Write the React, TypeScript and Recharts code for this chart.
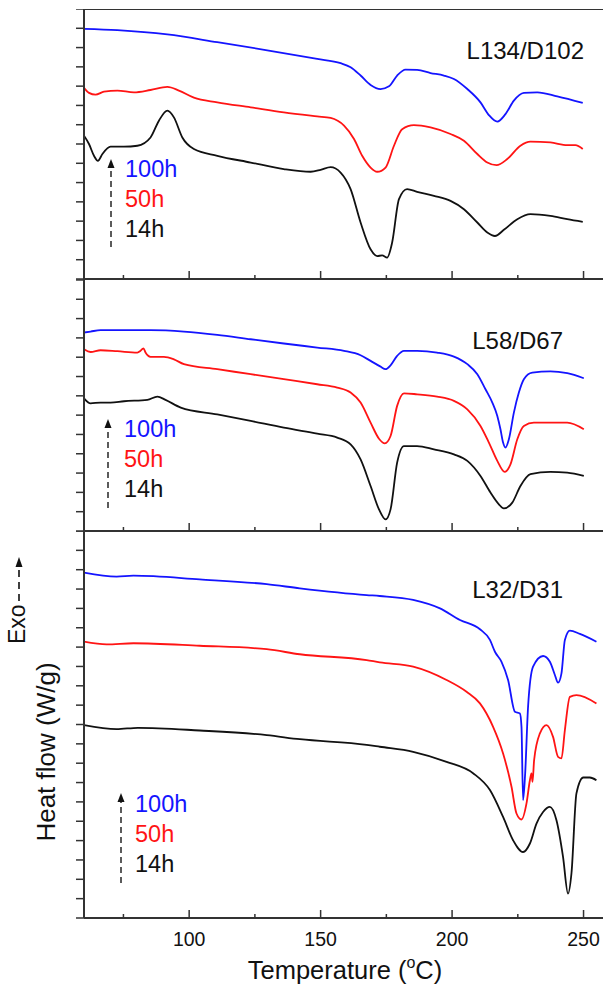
import React from 'react';
import { LineChart, Line, XAxis, YAxis, ReferenceLine } from 'recharts';

const FONT = '"Liberation Sans", Arial, Helvetica, sans-serif';
const AXIS = '#333333';
const BLUE = '#1414ff';
const RED = '#ff1414';
const BLACK = '#111111';

const WIDTH = 603;
const PLOT_LEFT = 84;
const T_MIN = 60;
const T_MAX = 257.4;

// temperature ticks (°C); majors carry labels on the bottom panel
const tempTicks = [75, 100, 125, 150, 175, 200, 225, 250];
const majorTemps = [100, 150, 200, 250];
const ageLabels = ['100h', '50h', '14h'];
const ageColors = [BLUE, RED, BLACK];

// ---- L134/D102 ----
const p1BlueT = [60, 72.7, 91.7, 110.7, 129.7, 148.7, 157.6, 161.4, 165.2, 169, 172.8, 176, 179.1, 182.3, 186.7, 191.8, 196.9, 200.7, 205.8, 210.8, 214, 217.2, 220.3, 223.5, 227.3, 232.4, 240, 249.7];
const p1BlueV = [12.97, 12.9, 12.68, 12.28, 11.86, 11.41, 11.19, 10.98, 10.55, 10.06, 9.85, 9.99, 10.55, 10.86, 10.84, 10.68, 10.55, 10.37, 9.85, 9.16, 8.5, 8.16, 8.55, 9.25, 9.65, 9.68, 9.47, 9.13];
const p1RedT = [60, 61.9, 64.4, 67.6, 72.7, 79, 85.3, 91.7, 96.1, 101.8, 110.7, 123.4, 136, 148.7, 153.8, 158.9, 162.7, 165.8, 169, 171.5, 174.7, 177.9, 181, 185.5, 191.8, 199.4, 204.5, 209.6, 213.4, 216.9, 221, 226, 229.8, 237.4, 243.8, 246.9, 249.7];
const p1RedV = [9.92, 9.65, 9.56, 9.71, 9.77, 9.68, 9.8, 9.96, 9.77, 9.4, 9.16, 8.9, 8.64, 8.43, 8.35, 7.95, 7.26, 6.39, 5.78, 5.56, 5.78, 6.91, 7.77, 7.98, 7.86, 7.52, 7.17, 6.48, 6.04, 5.9, 6.22, 6.91, 7.12, 7.08, 6.94, 6.94, 6.74];
const p1BlackT = [60, 61.9, 63.8, 65.3, 67, 70.1, 75.2, 80.3, 85.3, 88.5, 91.7, 94.2, 97.4, 101.8, 110.7, 123.4, 136, 146.2, 150, 153.8, 157.6, 161.4, 165.2, 169, 171.5, 173.4, 175.3, 177.2, 179.8, 182.9, 186.7, 193.1, 199.4, 204.5, 209.6, 213.4, 216.3, 219.7, 224.8, 229.8, 237.4, 243.8, 249.7];
const p1BlackV = [7.43, 7.0, 6.39, 6.13, 6.48, 6.86, 6.86, 6.91, 7.34, 8.21, 8.73, 8.38, 7.34, 6.74, 6.39, 6.04, 5.7, 5.56, 5.66, 5.8, 5.52, 4.66, 2.93, 1.54, 1.19, 1.22, 1.11, 1.89, 4.14, 4.66, 4.52, 4.31, 4.05, 3.62, 2.93, 2.41, 2.23, 2.55, 3.1, 3.36, 3.27, 3.1, 2.96];

// ---- L58/D67 ----
const p2BlueT = [60, 62.5, 66.3, 72.7, 85.3, 98, 110.7, 123.4, 136, 148.7, 158.9, 165.2, 169, 172.8, 174.7, 176.6, 179.1, 181.7, 186.7, 194.3, 200.7, 205.8, 209.6, 212.7, 215.3, 217.2, 218.4, 219.4, 220.3, 221.6, 223.5, 225.4, 227.3, 230.5, 237.4, 243.8, 250.1];
const p2BlueV = [10.28, 10.33, 10.4, 10.4, 10.4, 10.33, 10.16, 9.93, 9.71, 9.5, 9.33, 9.1, 8.81, 8.51, 8.38, 8.58, 9.07, 9.33, 9.33, 9.24, 9.03, 8.64, 8.12, 7.34, 6.65, 5.96, 5.27, 4.58, 4.32, 4.75, 6.13, 7.17, 7.86, 8.2, 8.27, 8.17, 7.91];
const p2RedT = [60, 62.5, 66.3, 72.7, 80.3, 81.5, 82.6, 83.4, 85.3, 90.4, 94.2, 98, 110.7, 123.4, 136, 148.7, 156.3, 161.4, 165.2, 169, 172.2, 174.4, 176.6, 179.1, 181.7, 186.7, 194.3, 200.7, 205.8, 210.8, 214, 217.2, 220, 222.2, 224.8, 227.3, 231.1, 237.4, 243.8, 250.1];
const p2RedV = [9.41, 9.27, 9.36, 9.31, 9.24, 9.33, 9.46, 9.24, 9.02, 9.02, 8.89, 8.64, 8.38, 8.12, 7.86, 7.6, 7.43, 7.17, 6.65, 5.61, 4.78, 4.54, 4.92, 6.48, 7.13, 7.08, 6.96, 6.74, 6.3, 5.44, 4.58, 3.63, 3.06, 3.45, 4.75, 5.44, 5.61, 5.61, 5.61, 5.27];
const p2BlackT = [60, 62.5, 66.3, 70.1, 75.2, 84.1, 87.9, 91, 96.8, 110.7, 123.4, 136, 148.7, 156.3, 161.4, 165.2, 169, 172.2, 174.7, 176.6, 179.1, 181.7, 186.7, 193.1, 200.7, 205.8, 210.8, 214.6, 217.8, 219.7, 222.9, 226, 229.8, 237.4, 243.8, 250.1];
const p2BlackV = [6.87, 6.61, 6.65, 6.65, 6.72, 6.79, 6.96, 6.79, 6.39, 6.04, 5.7, 5.35, 5.04, 4.84, 4.49, 3.71, 2.33, 1.12, 0.6, 1.12, 3.54, 4.4, 4.4, 4.23, 3.97, 3.63, 2.85, 1.99, 1.38, 1.17, 1.47, 2.33, 2.94, 3.06, 3.02, 2.85];

// ---- L32/D31 ----
const p3BlueT = [60, 72.4, 78.8, 104, 129.5, 142.1, 167.5, 172.5, 185.2, 195.4, 203, 210.6, 214.4, 216.3, 218.8, 221.3, 223.9, 225.8, 226.4, 227, 227.8, 228.9, 230.8, 234.6, 237.2, 239.1, 240.3, 241.6, 242.9, 244.8, 248.6, 254.9];
const p3BlueV = [17.85, 17.64, 17.69, 17.5, 17.25, 17.04, 16.69, 16.64, 16.44, 16.0, 15.4, 14.92, 14.37, 13.76, 13.24, 12.3, 10.66, 10.57, 9.88, 6.09, 7.48, 10.92, 12.99, 13.54, 13.24, 12.56, 12.16, 12.64, 14.37, 14.85, 14.68, 14.28];
const p3RedT = [60, 68.6, 78.8, 104, 129.5, 142.1, 167.5, 172.5, 185.2, 197.9, 205.5, 210.6, 215.6, 219.4, 222.6, 224.5, 226.4, 228.3, 229.6, 230.2, 230.6, 231.2, 233.4, 235.9, 238.4, 240.3, 241.6, 242.9, 244.8, 247.3, 254.9];
const p3RedV = [14.28, 14.14, 14.2, 14.07, 13.89, 13.63, 13.33, 13.21, 12.99, 12.3, 11.69, 11.09, 9.88, 8.5, 6.78, 5.4, 5.09, 5.92, 7.12, 7.47, 7.04, 8.16, 9.54, 9.97, 9.36, 8.33, 8.25, 9.71, 11.43, 11.52, 11.09];
const p3BlackT = [60, 72.4, 80.5, 104, 129.5, 142.1, 167.5, 172.5, 185.2, 197.9, 208.1, 214.4, 219.4, 223.2, 227, 229.6, 232.1, 234.6, 237.2, 239.7, 242.2, 244.1, 245.4, 247.3, 249.9, 252.4, 254.9];
const p3BlackV = [9.97, 9.76, 9.83, 9.69, 9.45, 9.24, 8.95, 8.85, 8.59, 8.07, 7.47, 6.61, 5.22, 4.02, 3.41, 3.85, 4.88, 5.48, 5.74, 5.05, 3.16, 1.26, 2.3, 6.44, 7.26, 7.26, 7.12];

const zip = (t: number[], v: number[]) => t.map((x, i) => ({ t: x, v: v[i] }));
const range = (n: number) => Array.from({ length: n + 1 }, (_, i) => i);

type PanelDef = {
  name: string;
  top: number;
  plotH: number;
  yMax: number;
  nameX: number;
  nameY: number;
  legendX: number;
  arrowX: number;
  legendBase: number; // baseline of the first legend line
  arrowTop: number;
  arrowBottom: number;
  series: { t: number; v: number }[][];
};

const panels: PanelDef[] = [
  {
    name: 'L134/D102', top: 9, plotH: 270, yMax: 14,
    nameX: 584, nameY: 59, legendX: 125, arrowX: 111, legendBase: 177, arrowTop: 159, arrowBottom: 247,
    series: [zip(p1BlueT, p1BlueV), zip(p1RedT, p1RedV), zip(p1BlackT, p1BlackV)],
  },
  {
    name: 'L58/D67', top: 279, plotH: 252, yMax: 13.05,
    nameX: 563, nameY: 349, legendX: 124, arrowX: 108, legendBase: 437, arrowTop: 419, arrowBottom: 508,
    series: [zip(p2BlueT, p2BlueV), zip(p2RedT, p2RedV), zip(p2BlackT, p2BlackV)],
  },
  {
    name: 'L32/D31', top: 531, plotH: 387, yMax: 20,
    nameX: 563, nameY: 598, legendX: 135, arrowX: 121, legendBase: 812, arrowTop: 793, arrowBottom: 883,
    series: [zip(p3BlueT, p3BlueV), zip(p3RedT, p3RedV), zip(p3BlackT, p3BlackV)],
  },
];

function TempTick(props: any) {
  const { x, y, payload, showLabel } = props;
  const major = majorTemps.includes(payload.value);
  return (
    <g>
      <line x1={x} x2={x} y1={y} y2={y - (major ? 8 : 4)} stroke={AXIS} strokeWidth={1.5} />
      {showLabel && major && (
        <text x={x} y={y + 28} textAnchor="middle" fontSize={19.5} fontFamily={FONT} fill="#111">
          {payload.value}
        </text>
      )}
    </g>
  );
}

function HeatTick(props: any) {
  const { x, y } = props;
  return <line x1={x} x2={x - 8} y1={y} y2={y} stroke={AXIS} strokeWidth={1.5} />;
}

function Panel({ def, last }: { def: PanelDef; last: boolean }) {
  const axisH = last ? 985 - def.top - def.plotH : 2;
  const chartH = def.plotH + axisH;
  return (
    <div style={{ position: 'absolute', left: 0, top: def.top, width: WIDTH, height: chartH }}>
      <LineChart width={WIDTH} height={chartH} margin={{ top: 0, right: 0, bottom: 0, left: 0 }}>
        <XAxis
          type="number"
          dataKey="t"
          domain={[T_MIN, T_MAX]}
          allowDataOverflow
          ticks={tempTicks}
          interval={0}
          height={axisH}
          tickSize={0}
          tickMargin={0}
          tickLine={false}
          axisLine={{ stroke: AXIS, strokeWidth: 2 }}
          tick={(p: any) => <TempTick {...p} showLabel={last} />}
        />
        <YAxis
          type="number"
          dataKey="v"
          width={PLOT_LEFT}
          domain={[0, def.yMax]}
          allowDataOverflow
          ticks={range(Math.floor(def.yMax))}
          interval={0}
          tickSize={0}
          tickMargin={0}
          tickLine={false}
          axisLine={{ stroke: AXIS, strokeWidth: 2 }}
          tick={(p: any) => <HeatTick {...p} />}
        />
        {def.top === 9 && <ReferenceLine y={def.yMax} stroke={AXIS} strokeWidth={2} />}
        {def.series.map((d, i) => (
          <Line
            key={ageLabels[i]}
            data={d}
            dataKey="v"
            type="monotone"
            stroke={ageColors[i]}
            strokeWidth={1.8}
            dot={false}
            activeDot={false}
            isAnimationActive={false}
          />
        ))}
      </LineChart>
    </div>
  );
}

function Annotations() {
  return (
    <svg
      width={WIDTH}
      height={985}
      style={{ position: 'absolute', left: 0, top: 0, pointerEvents: 'none' }}
      fontFamily={FONT}
    >
      {panels.map((p) => (
        <g key={p.name}>
          <text x={p.nameX} y={p.nameY} textAnchor="end" fontSize={24} fill="#111">
            {p.name}
          </text>
          {ageLabels.map((a, i) => (
            <text key={a} x={p.legendX} y={p.legendBase + i * 30} fontSize={23.5} fill={ageColors[i]}>
              {a}
            </text>
          ))}
          <line
            x1={p.arrowX}
            x2={p.arrowX}
            y1={p.arrowBottom}
            y2={p.arrowTop + 8}
            stroke="#333"
            strokeWidth={1.6}
            strokeDasharray="6 4"
          />
          <polygon
            points={`${p.arrowX},${p.arrowTop} ${p.arrowX - 3.5},${p.arrowTop + 9} ${p.arrowX + 3.5},${p.arrowTop + 9}`}
            fill="#111"
          />
        </g>
      ))}

      {/* y-axis title with exotherm direction */}
      <text x={55} y={752} transform="rotate(-90 55 752)" textAnchor="middle" fontSize={26} fill="#111">
        Heat flow (W/g)
      </text>
      <text x={25} y={644} transform="rotate(-90 25 644)" fontSize={23} fill="#111">
        Exo
      </text>
      <line x1={19} x2={19} y1={601} y2={567} stroke="#111" strokeWidth={1.6} strokeDasharray="7 5" />
      <polygon points="19,557 15.5,567 22.5,567" fill="#111" />

      {/* x-axis title */}
      <text x={345} y={979} textAnchor="middle" fontSize={25.5} fill="#111">
        Temperature (<tspan fontSize={16} dy={-11}>o</tspan>
        <tspan dy={11}>C)</tspan>
      </text>
    </svg>
  );
}

export default function App() {
  return (
    <div style={{ position: 'absolute', left: 0, top: 0, width: WIDTH, height: 985, background: '#fff', overflow: 'hidden' }}>
      {panels.map((p, i) => (
        <Panel key={p.name} def={p} last={i === panels.length - 1} />
      ))}
      <Annotations />
    </div>
  );
}
